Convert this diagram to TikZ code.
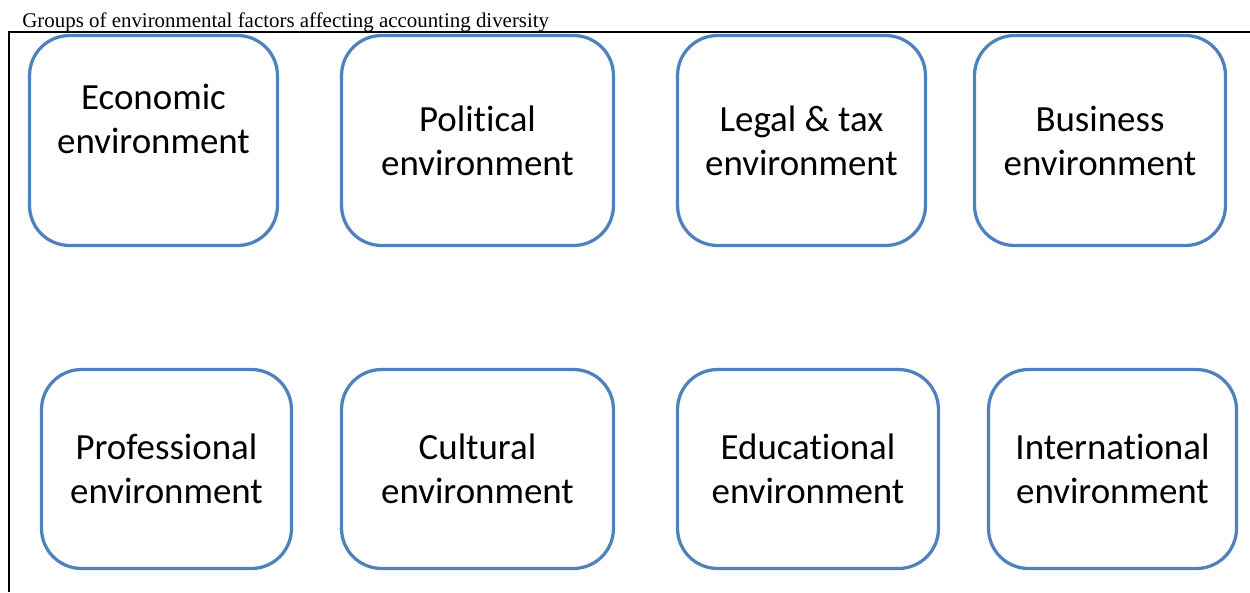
\documentclass[tikz,border=0pt]{standalone}
\usepackage[usenames,dvipsnames,svgnames,table]{xcolor}
\usepackage{fontspec}
\setmainfont{Liberation Serif}
\newfontfamily\boxfont[Ligatures=NoCommon]{Carlito}
\usepackage{tikz}
\definecolor{boxblue}{HTML}{4F81BD}

\begin{document}
\begin{tikzpicture}[x=0.02cm, y=-0.02cm,
		envbox/.style={draw=boxblue, line width=0.065cm, rounded corners=0.8cm, fill=white,
			minimum height=#1, align=center, inner sep=0pt,
			font=\boxfont\fontsize{21}{25}\selectfont},
		envbox/.default=4.2cm]
						\useasboundingbox (0,0) rectangle (1250,592);

						\node[anchor=base west, inner sep=0pt, font=\fontsize{11.9}{14}\selectfont] (title) at (22,27) {Groups of environmental factors affecting accounting diversity};
						\draw[line width=0.7pt, black] (8,32) -- (1250,32);
						\draw[line width=0.7pt, black] (9,32) -- (9,592);

						\node[envbox, minimum width=4.96cm] (eco) at (153.5,140.5) {Economic\\environment\\\mbox{}};
						\node[envbox, minimum width=5.44cm] (pol) at (477.5,140.5) {Political\\environment};
						\node[envbox, minimum width=4.96cm] (leg) at (801.5,140.5) {Legal \& tax\\environment};
						\node[envbox, minimum width=5.02cm] (bus) at (1100,140.5) {Business\\environment};

						\node[envbox=3.98cm, minimum width=5.0cm] (pro) at (166.5,469) {Professional\\environment};
						\node[envbox=3.98cm, minimum width=5.44cm] (cul) at (477.5,469) {Cultural\\environment};
						\node[envbox=3.98cm, minimum width=5.22cm] (edu) at (808,469) {Educational\\environment};
						\node[envbox=3.98cm, minimum width=4.96cm] (int) at (1112.5,469) {International\\environment};
					\end{tikzpicture}
\end{document}
